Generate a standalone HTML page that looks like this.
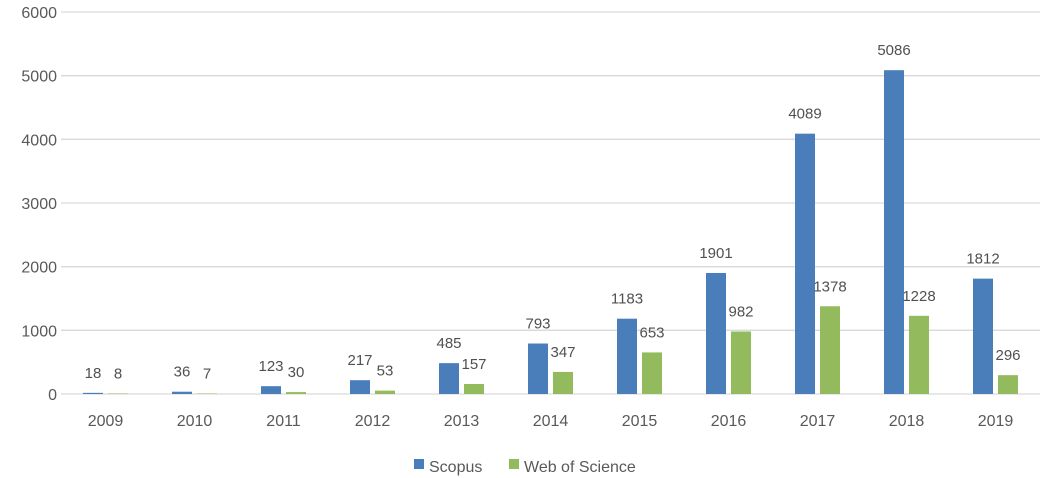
<!DOCTYPE html>
<html><head><meta charset="utf-8"><style>
html,body{margin:0;padding:0;background:#fff;}
svg{display:block;font-family:"Liberation Sans",sans-serif;}
</style></head><body>
<svg id="chart" width="1043" height="478">
<g id="grid"></g><g id="bars"></g><g id="labels"></g>
<g>
<rect x="414" y="459" width="10" height="10" fill="#4a7ebb"/>
<text x="429" y="472" font-size="16" fill="#595959">Scopus</text>
<rect x="509" y="459" width="10" height="10" fill="#93bb5d"/>
<text x="524" y="472" font-size="16" fill="#595959">Web of Science</text>
</g>
</svg>
<script>
const categories=["2009","2010","2011","2012","2013","2014","2015","2016","2017","2018","2019"];
const scopus=[18,36,123,217,485,793,1183,1901,4089,5086,1812];
const wos=[8,7,30,53,157,347,653,982,1378,1228,296];
const yTicks=[0,1000,2000,3000,4000,5000,6000];
const NS="http://www.w3.org/2000/svg";
const y=v=>394-v*(382/6000);
const x=i=>105.5+i*89;
function mk(tag,attrs,parent){const e=document.createElementNS(NS,tag);for(const k in attrs)e.setAttribute(k,attrs[k]);parent.appendChild(e);return e;}
const grid=document.getElementById('grid'),bars=document.getElementById('bars'),labels=document.getElementById('labels');
yTicks.forEach(t=>{
  const l=mk('line',{x1:61,x2:1040,y1:y(t),y2:y(t),stroke:'#d9d9d9','stroke-width':1.3},grid);
  
  
  const tx=mk('text',{x:57,y:y(t)+6,'text-anchor':'end','font-size':16,fill:'#595959'},grid);
  tx.textContent=t;
  
  
});
categories.forEach((c,i)=>{
  const cx=x(i);
  const series=[[scopus[i],cx-22.5,'#4a7ebb','scopus'],[wos[i],cx+2.5,'#93bb5d','wos']];
  series.forEach(([v,bx,col,nm])=>{
    const r=mk('rect',{x:bx,y:y(v),width:20,height:394-y(v),fill:col},bars);
    
    
    const t=mk('text',{x:bx+10,y:y(v)-15,'text-anchor':'middle','font-size':15,fill:'#505050'},labels);
    t.textContent=v;
    
    
  });
  const t=mk('text',{x:cx,y:426,'text-anchor':'middle','font-size':16,fill:'#595959'},labels);
  t.textContent=c;
  
  
});
</script>
</body></html>
